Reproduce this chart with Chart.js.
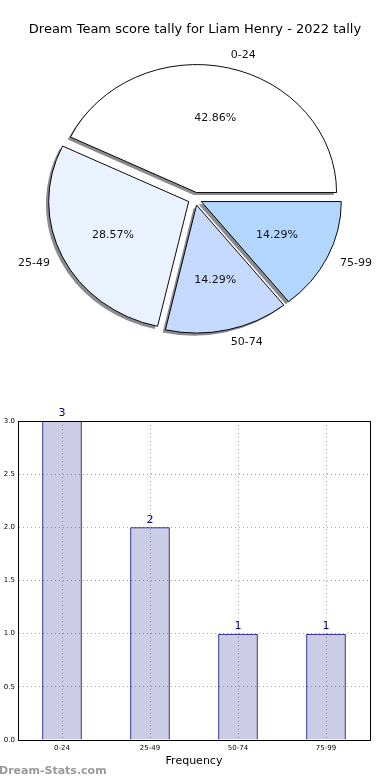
<!DOCTYPE html>
<html>
<head>
<meta charset="utf-8">
<script src="https://cdn.jsdelivr.net/npm/chart.js@4"></script>
<style>
  html, body { margin: 0; padding: 0; background: #fff; }
  #wrap { position: relative; width: 390px; height: 780px; }
  #pieChart { position: absolute; left: 0; top: 0; }
  #barChart { position: absolute; left: 0; top: 360px; }
</style>
</head>
<body>
<div id="wrap">
  <canvas id="pieChart" width="390" height="360"></canvas>
  <canvas id="barChart" width="390" height="420"></canvas>
</div>
<script>
const categories = ['0-24', '25-49', '50-74', '75-99'];
const counts = [3, 2, 1, 1];
const pieColors = ['#ffffff', '#eaf1ff', '#c6d9ff', '#b3d6ff'];
const yTicks = [0, 0.5, 1, 1.5, 2, 2.5, 3];
const chartTitle = 'Dream Team score tally for Liam Henry - 2022 tally';

const FONT = "'DejaVu Sans', sans-serif";
const squash = 128 / 140;   // matplotlib pie is an ellipse here
const explode = 7;          // 0.05 of the radius
const shadowDx = -2.8, shadowDy = 2.8;

// matplotlib goes counter-clockwise from 3 o'clock, chart.js clockwise -> reverse
const pieLabels = categories.slice().reverse();
const pieData = counts.slice().reverse();
const pieBg = pieColors.slice().reverse();
const total = counts.reduce((a, b) => a + b, 0);

const ellipsePlugin = {
    id: 'ellipse',
    beforeDatasetDraw(chart) {
        const arcs = chart.getDatasetMeta(0).data;
        const ctx = chart.ctx;
        const cx = arcs[0].x, cy = arcs[0].y;
        ctx.save();
        ctx.translate(cx, cy);
        ctx.scale(1, squash);
        ctx.translate(-cx, -cy);
        // shadows first, all under the wedges
        arcs.forEach(arc => {
            const mid = (arc.startAngle + arc.endAngle) / 2;
            const ox = explode * Math.cos(mid) + shadowDx;
            const oy = explode * Math.sin(mid) + shadowDy;
            ctx.beginPath();
            ctx.moveTo(arc.x + ox, arc.y + oy);
            ctx.arc(arc.x + ox, arc.y + oy, arc.outerRadius, arc.startAngle, arc.endAngle);
            ctx.closePath();
            ctx.fillStyle = 'rgba(60, 62, 66, 0.6)';
            ctx.fill();
        });
        // exploded wedges
        arcs.forEach(arc => {
            const mid = (arc.startAngle + arc.endAngle) / 2;
            ctx.save();
            ctx.translate(explode * Math.cos(mid), explode * Math.sin(mid));
            arc.draw(ctx);
            ctx.restore();
        });
        ctx.restore();
        return false;
    },
    afterDatasetsDraw(chart) {
        const ctx = chart.ctx;
        const meta = chart.getDatasetMeta(0);
        ctx.save();
        ctx.fillStyle = '#111';
        ctx.font = '11px ' + FONT;
        ctx.textBaseline = 'middle';
        meta.data.forEach((arc, i) => {
            const mid = (arc.startAngle + arc.endAngle) / 2;
            const r = arc.outerRadius;
            const cx = arc.x + explode * Math.cos(mid);
            const cy = arc.y + explode * Math.sin(mid) * squash;
            // category label at 1.1 r
            const lx = cx + 1.1 * r * Math.cos(mid);
            const ly = cy + 1.1 * r * Math.sin(mid) * squash;
            ctx.textAlign = Math.cos(mid) > 0 ? 'left' : 'right';
            ctx.fillText(pieLabels[i], lx, ly);
            // percentage at 0.6 r
            const px = cx + 0.6 * r * Math.cos(mid);
            const py = cy + 0.6 * r * Math.sin(mid) * squash;
            ctx.textAlign = 'center';
            ctx.fillText((pieData[i] / total * 100).toFixed(2) + '%', px, py);
        });
        ctx.restore();
    }
};

new Chart(document.getElementById('pieChart'), {
    type: 'pie',
    data: {
        labels: pieLabels,
        datasets: [{
            data: pieData,
            backgroundColor: pieBg,
            borderColor: '#000',
            borderWidth: 1,
            offset: 0,
            hoverOffset: 0
        }]
    },
    options: {
        responsive: false,
        animation: false,
        rotation: 90,
        radius: 140,
        layout: { padding: 0 },
        plugins: {
            legend: { display: false },
            tooltip: { enabled: false },
            title: {
                display: true,
                text: chartTitle,
                color: '#000',
                font: { family: FONT, size: 13, weight: 'normal' },
                padding: { top: 22, bottom: 0 }
            }
        }
    },
    plugins: [ellipsePlugin]
});

const framePlugin = {
    id: 'frame',
    afterDatasetsDraw(chart) {
        const { ctx, chartArea } = chart;
        ctx.save();
        ctx.strokeStyle = '#000';
        ctx.lineWidth = 1;
        ctx.strokeRect(Math.round(chartArea.left) + 0.5, Math.round(chartArea.top) + 0.5,
            Math.round(chartArea.right - chartArea.left), Math.round(chartArea.bottom - chartArea.top));
        // value labels over the bars
        const meta = chart.getDatasetMeta(0);
        ctx.fillStyle = '#000080';
        ctx.font = '11px ' + FONT;
        ctx.textAlign = 'center';
        ctx.textBaseline = 'bottom';
        meta.data.forEach((bar, i) => {
            ctx.fillText(String(counts[i]), bar.x, bar.y - 2);
        });
        ctx.restore();
    },
    afterDraw(chart) {
        const ctx = chart.ctx;
        ctx.save();
        ctx.fillStyle = '#9a9a9a';
        ctx.font = 'bold 11px ' + FONT;
        ctx.textAlign = 'left';
        ctx.textBaseline = 'middle';
        ctx.fillText('Dream-Stats.com', -1, 411);
        ctx.restore();
    }
};

new Chart(document.getElementById('barChart'), {
    type: 'bar',
    data: {
        labels: categories,
        datasets: [{
            data: counts,
            backgroundColor: 'rgba(0, 0, 128, 0.2)',
            borderColor: '#000080',
            borderWidth: 1,
            barPercentage: 0.45,
            categoryPercentage: 1
        }]
    },
    options: {
        responsive: false,
        animation: false,
        layout: { padding: { top: 61, right: 20, left: 0, bottom: 12 } },
        plugins: {
            legend: { display: false },
            tooltip: { enabled: false }
        },
        scales: {
            x: {
                grid: {
                    offset: false,
                    color: '#a8a8a8',
                    lineWidth: 1,
                    drawTicks: false
                },
                border: { display: true, color: '#000', dash: [1, 3] },
                ticks: {
                    color: '#000',
                    font: { family: FONT, size: 7 },
                    padding: 4,
                    maxRotation: 0
                },
                title: {
                    display: true,
                    text: 'Frequency',
                    color: '#000',
                    font: { family: FONT, size: 11 },
                    padding: 0
                },
                afterFit(scale) { scale.height = 28; }
            },
            y: {
                min: 0,
                max: 3,
                afterBuildTicks(scale) { scale.ticks = yTicks.map(v => ({ value: v })); },
                grid: {
                    color: '#a8a8a8',
                    lineWidth: 1,
                    drawTicks: false
                },
                border: { display: true, color: '#000', dash: [1, 3] },
                ticks: {
                    color: '#000',
                    font: { family: FONT, size: 7 },
                    padding: 3,
                    callback: v => Number(v).toFixed(1)
                },
                afterFit(scale) { scale.width = 18; }
            }
        }
    },
    plugins: [framePlugin]
});
</script>
</body>
</html>
